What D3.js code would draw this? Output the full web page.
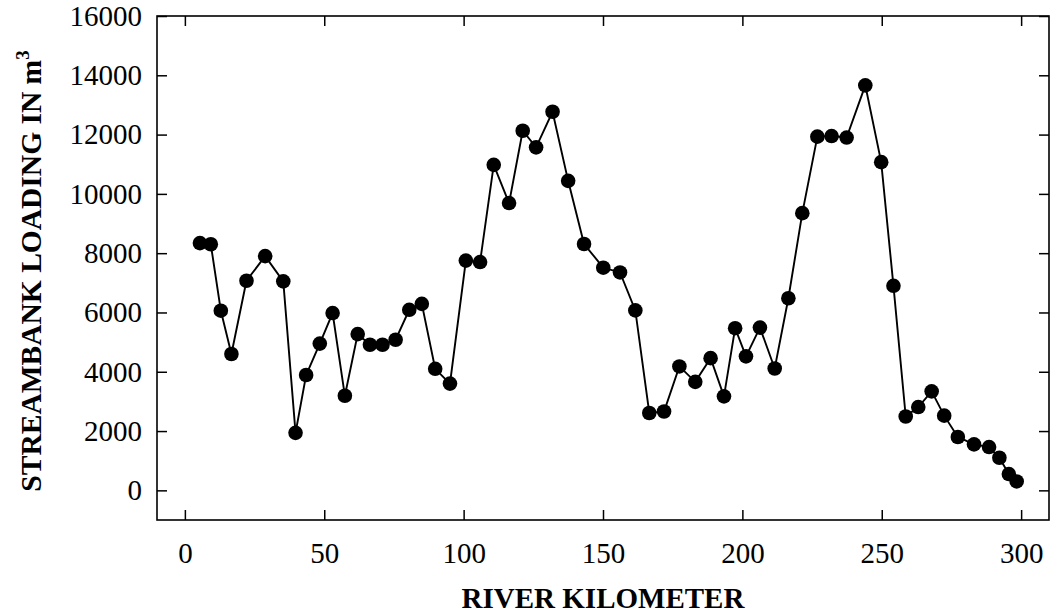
<!DOCTYPE html>
<html>
<head>
<meta charset="utf-8">
<script src="https://cdn.jsdelivr.net/npm/d3@7"></script>
<style>
  html, body { margin: 0; padding: 0; background: #fff; }
  svg { display: block; }
  text { font-family: "Liberation Serif", "Times New Roman", serif; fill: #000; }
</style>
</head>
<body>
<svg id="chart" width="1050" height="615"></svg>
<script>
// River kilometre of each sampling reach
const riverKm = [5.4, 9.3, 12.9, 16.7, 22.1, 28.8, 35.3, 39.7, 43.5, 48.4,
  53.0, 57.4, 62.0, 66.4, 70.9, 75.6, 80.5, 85.0, 89.8, 95.1,
  100.8, 105.9, 110.8, 116.3, 121.2, 126.0, 131.9, 137.5, 143.2, 150.1,
  156.1, 161.6, 166.6, 171.9, 177.4, 183.1, 188.6, 193.4, 197.4, 201.3,
  206.3, 211.6, 216.5, 221.5, 226.9, 232.0, 237.4, 244.1, 249.8, 254.2,
  258.6, 263.1, 267.9, 272.4, 277.3, 283.1, 288.5, 292.2, 295.6, 298.4];

// Streambank loading (m^3) at each reach
const loading = [8340, 8300, 6060, 4600, 7070, 7900, 7050, 1940, 3890, 4950,
  5980, 3190, 5270, 4910, 4910, 5080, 6090, 6290, 4100, 3600,
  7750, 7700, 10980, 9690, 12130, 11570, 12770, 10440, 8310, 7510,
  7350, 6070, 2610, 2660, 4180, 3660, 4460, 3170, 5470, 4520,
  5490, 4110, 6480, 9350, 11930, 11950, 11900, 13660, 11070, 6900,
  2490, 2810, 3340, 2520, 1800, 1550, 1460, 1100, 550, 300];

const xTicks = [0, 50, 100, 150, 200, 250, 300];
const yTicks = [0, 2000, 4000, 6000, 8000, 10000, 12000, 14000, 16000];

const serif = '"Liberation Serif", "Times New Roman", serif';

const svg = d3.select("#chart");
const margin = { left: 157, top: 16, right: 1, bottom: 95 };
const W = 1050 - margin.left - margin.right;
const H = 615 - margin.top - margin.bottom;

const x = d3.scaleLinear().domain([-10, 310]).range([0, W]);
const y = d3.scaleLinear().domain([-1000, 16000]).range([H, 0]);

const g = svg.append("g").attr("transform", `translate(${margin.left},${margin.top})`);

const tickLen = 10;
const styleAxis = sel => {
  sel.attr("font-family", null).attr("font-size", null);
  sel.select(".domain").remove();
  sel.selectAll(".tick line").attr("stroke", "#000").attr("stroke-width", 1.5);
  sel.selectAll(".tick text").style("font-family", serif).style("font-size", "29px").attr("fill", "#000");
};

// bottom axis with labels
g.append("g").attr("transform", `translate(0,${H})`)
  .call(d3.axisBottom(x).tickValues(xTicks).tickSize(-tickLen).tickPadding(22).tickFormat(d3.format("d")))
  .call(styleAxis);

// top mirror ticks
g.append("g")
  .call(d3.axisTop(x).tickValues(xTicks).tickSize(-tickLen).tickFormat(""))
  .call(styleAxis);

// left axis with labels
g.append("g")
  .call(d3.axisLeft(y).tickValues(yTicks).tickSize(-tickLen).tickPadding(15).tickFormat(d3.format("d")))
  .call(styleAxis);

// right mirror ticks
g.append("g").attr("transform", `translate(${W},0)`)
  .call(d3.axisRight(y).tickValues(yTicks).tickSize(-tickLen).tickFormat(""))
  .call(styleAxis);

// plot frame
g.append("rect")
  .attr("x", 0).attr("y", 0).attr("width", W).attr("height", H)
  .attr("fill", "none").attr("stroke", "#000").attr("stroke-width", 1.6);

const pts = riverKm.map((k, i) => ({ k, v: loading[i] }));

// connecting line
g.append("path")
  .datum(pts)
  .attr("fill", "none")
  .attr("stroke", "#000")
  .attr("stroke-width", 1.9)
  .attr("d", d3.line().x(d => x(d.k)).y(d => y(d.v)));

// markers
g.selectAll("circle.pt")
  .data(pts)
  .join("circle")
  .attr("class", "pt")
  .attr("cx", d => x(d.k))
  .attr("cy", d => y(d.v))
  .attr("r", 7.3)
  .attr("fill", "#000");

// axis titles
svg.append("text")
  .attr("x", margin.left + W / 2)
  .attr("y", 608)
  .attr("text-anchor", "middle")
  .attr("font-size", 29)
  .attr("font-weight", "bold")
  .text("RIVER KILOMETER");

const yt = svg.append("text")
  .attr("transform", `translate(41,${margin.top + H / 2 + 3}) rotate(-90)`)
  .attr("text-anchor", "middle")
  .attr("font-size", 29.5)
  .attr("font-weight", "bold");
yt.append("tspan").text("STREAMBANK LOADING IN m");
yt.append("tspan").attr("font-size", 19).attr("dy", -12).text("3");
</script>
</body>
</html>
